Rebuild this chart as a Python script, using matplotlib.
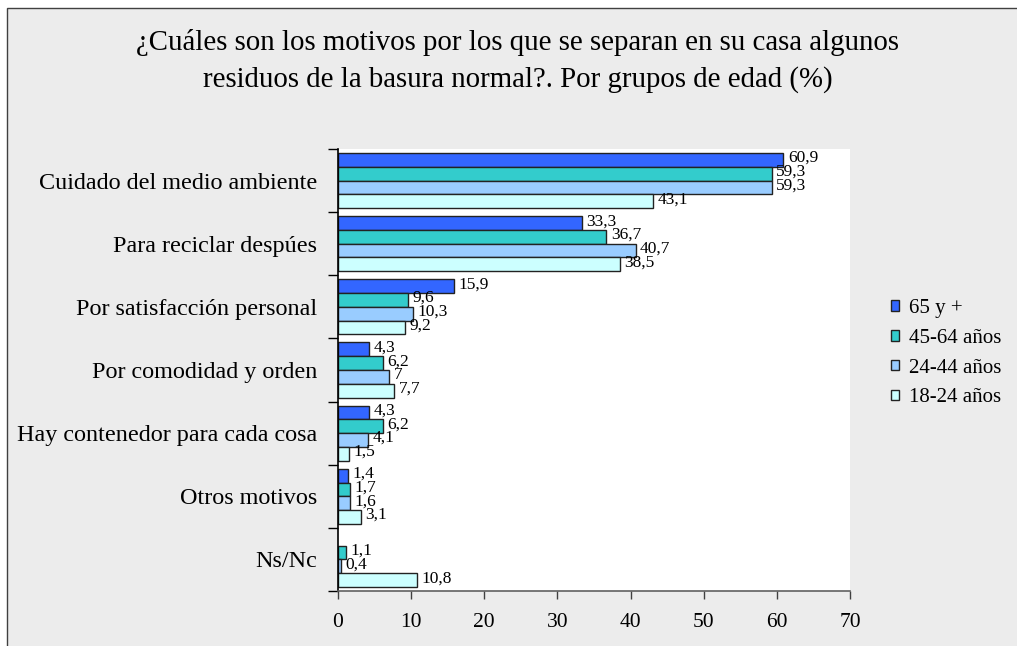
import numpy as np
import matplotlib
matplotlib.use("Agg")
import matplotlib.pyplot as plt
from matplotlib.patches import Rectangle, Patch

plt.rcParams['font.family'] = ['Liberation Serif', 'DejaVu Serif']

categories = ["Cuidado del medio ambiente", "Para reciclar despúes", "Por satisfacción personal",
              "Por comodidad y orden", "Hay contenedor para cada cosa", "Otros motivos", "Ns/Nc"]
series_names = ["65 y +", "45-64 años", "24-44 años", "18-24 años"]
v65 = [60.9, 33.3, 15.9, 4.3, 4.3, 1.4, None]
v45 = [59.3, 36.7, 9.6, 6.2, 6.2, 1.7, 1.1]
v24 = [59.3, 40.7, 10.3, 7, 4.1, 1.6, 0.4]
v18 = [43.1, 38.5, 9.2, 7.7, 1.5, 3.1, 10.8]
xticks = [0, 10, 20, 30, 40, 50, 60, 70]
title_lines = ["¿Cuáles son los motivos por los que se separan en su casa algunos",
               "residuos de la basura normal?. Por grupos de edad (%)"]

colors = ["#3366FF", "#33CCCC", "#99CCFF", "#CCFFFF"]

W, H = 1017, 646
fig = plt.figure(figsize=(W / 100, H / 100), dpi=100)
fig.patch.set_facecolor("white")
bg = Rectangle((7 / W, -0.1), 1.2, 1.1 - 8 / H, transform=fig.transFigure,
               facecolor="#ececec", edgecolor="#404040", linewidth=1.0, zorder=-10)
fig.patches.append(bg)

ax_top, ax_bot = 149, 591
ax = fig.add_axes([338 / W, 1 - ax_bot / H, (850 - 338) / W, (ax_bot - ax_top) / H])
ax.set_facecolor("white")

n = len(categories)
bh = 0.218
all_series = [v65, v45, v24, v18]
for s, (vals, col) in enumerate(zip(all_series, colors)):
    for i, v in enumerate(vals):
        if v is None:
            continue
        yc = (n - 0.5 - i) + (1.5 - s) * bh
        ax.barh(yc, v, height=bh, color=col, edgecolor="#222222", linewidth=1.0)
        lab = ("%g" % v).replace(".", ",")
        ax.text(v + 0.6, yc + 0.03, lab, va="center", ha="left", fontsize=12.5, color="black")

ax.set_xlim(0, 70)
ax.set_ylim(0, n)
ax.set_xticks(xticks)
ax.set_xticklabels([str(t) for t in xticks], fontsize=15.5)
ax.set_yticks(np.arange(0, n + 1))
ax.set_yticklabels([])
ax.set_yticks([n - 0.5 - i for i in range(n)], minor=True)
ax.set_yticklabels(categories, minor=True, fontsize=17.4)
ax.tick_params(axis="y", which="minor", length=0, pad=15)
ax.tick_params(axis="y", which="major", direction="out", length=7, width=1, color="black")
ax.tick_params(axis="x", direction="out", length=6, width=1, color="#404040", pad=10)
for sp in ["top", "right"]:
    ax.spines[sp].set_visible(False)
ax.spines["left"].set_color("black")
ax.spines["left"].set_linewidth(1.2)
ax.spines["bottom"].set_color("#606060")
ax.spines["bottom"].set_linewidth(1.2)

fig.text(518 / W, 1 - 43 / H, title_lines[0], ha="center", va="center", fontsize=20.8)
fig.text(518 / W, 1 - 80 / H, title_lines[1], ha="center", va="center", fontsize=20.8)

handles = [Patch(facecolor=c, edgecolor="#222222", linewidth=1.0) for c in colors]
leg = fig.legend(handles, series_names, loc="upper left", bbox_to_anchor=(891 / W, 1 - 299 / H),
                 frameon=False, fontsize=15, handlelength=0.4, handleheight=0.4,
                 handletextpad=0.45, labelspacing=0.52, borderaxespad=0, borderpad=0)

fig.savefig("out.png", dpi=100)
